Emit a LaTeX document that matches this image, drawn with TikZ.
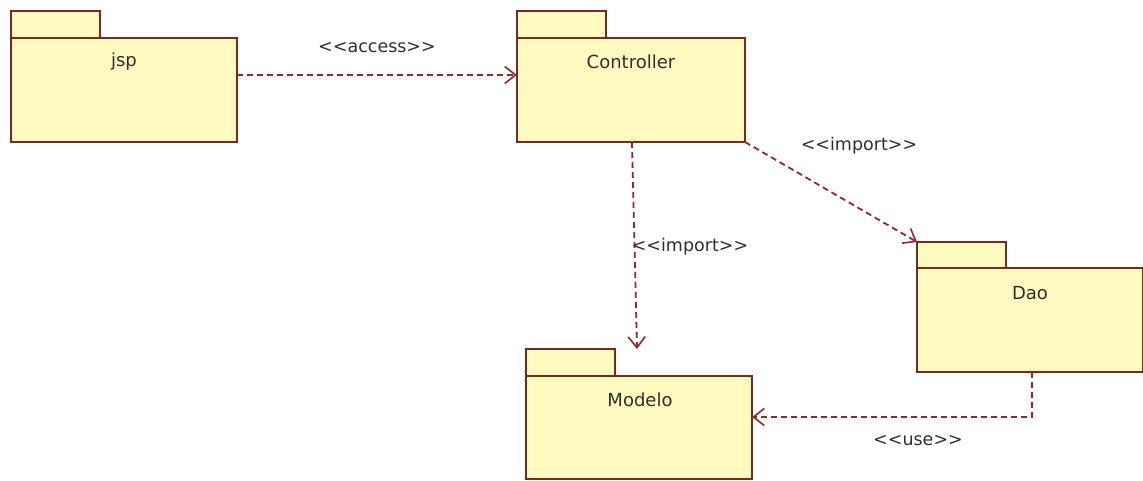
\documentclass[tikz,border=0pt]{standalone}
\usepackage{fontspec}
\setmainfont{DejaVu Sans}
\usetikzlibrary{arrows.meta,calc}
\definecolor{pkgfill}{HTML}{FFFBC0}
\definecolor{pkgline}{HTML}{7A2A1C}
\definecolor{conline}{HTML}{8A2C2C}
\definecolor{txt}{HTML}{2E2E2E}
\newcommand{\stereo}[1]{{<}{<}#1{>}{>}}
\tikzset{
  pkgbody/.style={draw=pkgline, fill=pkgfill, line width=1.8pt, rectangle, inner sep=0pt, outer sep=0pt,
    minimum width=226pt, minimum height=104pt, anchor=north west},
  pkgtab/.style={draw=pkgline, fill=pkgfill, line width=1.8pt, rectangle, inner sep=0pt, outer sep=0pt,
    minimum width=89pt, minimum height=27pt, anchor=north west},
  pkgtext/.style={text=txt, font=\fontsize{18}{21}\selectfont, inner sep=0pt},
  dep/.style={draw=conline, line width=1.8pt, dash pattern=on 6pt off 4pt,
    -{Straight Barb[length=11pt,width=17pt,line width=1.6pt]}},
  deplabel/.style={text=txt, font=\fontsize{17.5}{20}\selectfont, inner sep=0pt}
}
\begin{document}
\begin{tikzpicture}[x=1pt,y=-1pt]
\useasboundingbox (0,0) rectangle (1143,480);
% jsp
\node[pkgtab] (jsptab) at (11,11) {};
\node[pkgbody] (jsp) at (11,38) {};
\node[pkgtext] (jspt) at (124,62) {jsp};
% Controller
\node[pkgtab] (ctrltab) at (517,11) {};
\node[pkgbody, minimum width=228pt] (ctrl) at (517,38) {};
\node[pkgtext] (ctrlt) at (631,62) {Controller};
% Dao
\node[pkgtab] (daotab) at (917,242) {};
\node[pkgbody] (dao) at (917,268) {};
\node[pkgtext] (daot) at (1030,293) {Dao};
% Modelo
\node[pkgtab] (modtab) at (526,349) {};
\node[pkgbody, minimum height=103pt] (mod) at (526,376) {};
\node[pkgtext] (modt) at (640,400) {Modelo};
% connectors
\draw[dep] ([yshift=-37pt]jsp.north east) -- ([yshift=-37pt]ctrl.north west);
\node[deplabel] (lacc) at (377,48) {\stereo{access}};
\coordinate (vimp) at ($(modtab.north west)+(111,0)$);
\draw[dep] ($(ctrl.south west)+(115,0)$) -- (vimp);
\node[deplabel] (limp1) at (690,247) {\stereo{import}};
\draw[dep] (ctrl.south east) -- (daotab.north west);
\node[deplabel] (limp2) at (859,146) {\stereo{import}};
\coordinate (useend) at ([yshift=-41pt]mod.north east);
\coordinate (usestart) at ($(dao.south)+(2,0)$);
\draw[dep] (usestart) -- (usestart |- useend) -- (useend);
\node[deplabel] (luse) at (918,441) {\stereo{use}};
\end{tikzpicture}
\end{document}
